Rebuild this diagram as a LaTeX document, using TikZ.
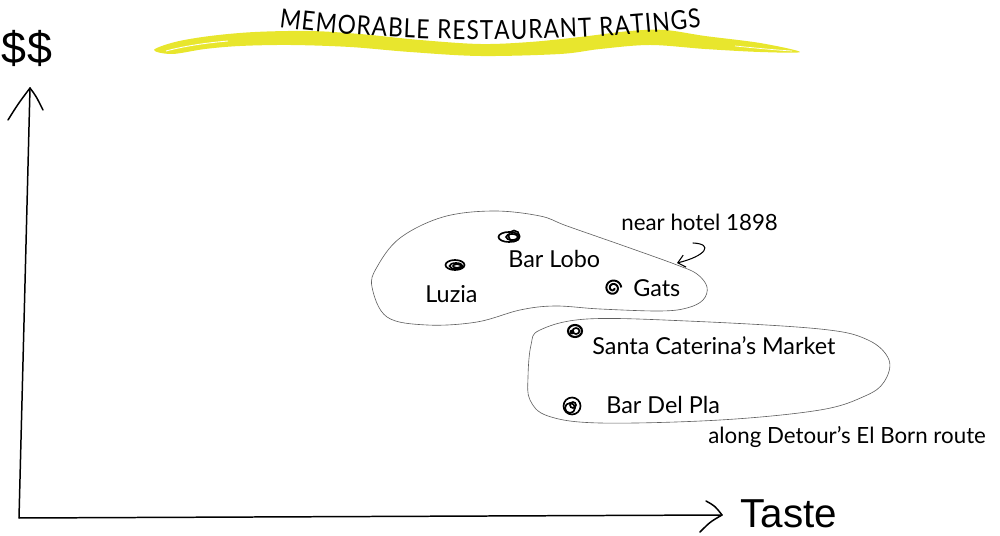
\documentclass[tikz,border=0pt]{standalone}
\usepackage{fontspec}
\setmainfont{Lato}
\newfontfamily\axisfont{Liberation Sans}
\newfontfamily\titlefont[FakeStretch=0.86]{Lato}
\usetikzlibrary{decorations.text,arrows.meta}
\definecolor{brush}{RGB}{232,230,45}
\definecolor{blobline}{RGB}{95,95,95}
\begin{document}
\begin{tikzpicture}[x=0.02cm,y=-0.02cm,
  lbl/.style={anchor=base west,inner sep=0pt,font=\fontsize{13.3}{15}\selectfont},
  note/.style={anchor=base west,inner sep=0pt,font=\fontsize{12.7}{15}\selectfont},
  axislbl/.style={anchor=base west,inner sep=0pt,font=\axisfont\fontsize{23}{26}\selectfont},
  axisline/.style={line width=0.85pt,line cap=round,line join=round},
  blob/.style={draw=blobline,line width=0.35pt},
  scrib/.style={line width=0.95pt}]
\useasboundingbox (0,0) rectangle (1000,536);

% yellow brush stroke
\fill[brush] plot[smooth cycle, tension=0.55] coordinates {(154,50) (175,42) (210,36) (255,32) (310,31) (360,34) (420,40) (480,44) (530,42) (580,37) (630,31) (665,30) (705,36) (760,43) (800,52) (760,52) (705,49) (650,45) (600,49) (560,54) (480,56) (410,52) (350,47) (290,45) (240,46) (205,49) (172,54)};
\draw[white,line width=0.5pt] (166,51) .. controls (185,46) and (205,43) .. (228,41);
\draw[white,line width=0.4pt] (735,46) .. controls (755,48) and (775,50) .. (792,51);

% title along curve
\path[decorate, decoration={text along path, text align={fit to path},
  text={|\titlefont\fontsize{15}{17}\selectfont|MEMORABLE RESTAURANT RATINGS}}]
  (279,27) .. controls (400,43) and (560,44) .. (701,27);

% axes
\coordinate (origin) at (19,518);
\coordinate (ytip) at (30,88);
\coordinate (xtip) at (722,515);
\draw[axisline] (origin) -- (ytip);
\draw[axisline] (origin) -- (xtip);
\draw[axisline] (8,120) .. controls (18,104) .. (ytip) .. controls (36,96) .. (43,110);
\draw[axisline] (706,501) .. controls (715,506) .. (xtip) .. controls (710,522) .. (700,532);
\node[axislbl,font=\axisfont\fontsize{25.5}{28}\selectfont] (price) at (1,64) {\$\kern0.5pt\$};
\node[axislbl] (taste) at (740,527) {Taste};

% blobs
\draw[blob] plot[smooth cycle, tension=0.6] coordinates {(372,287) (377,267) (400,238) (443,217) (493,211) (540,216) (567,226) (627,247) (677,265) (697,274) (707,287) (703,300) (687,308) (660,311) (600,309) (555,306) (520,310) (477,322) (427,325) (387,317)};
\draw[blob] plot[smooth cycle, tension=0.6] coordinates {(540,330) (587,319) (687,321) (820,329) (868,340) (889,360) (884,382) (865,396) (820,410) (720,420) (600,423) (548,416) (530,400) (528,377) (531,345)};

% scribbles
\draw[scrib] (455,265) ellipse [x radius=9.5,y radius=5];
\draw[scrib] (456,266) ellipse [x radius=6.5,y radius=3];
\draw[scrib] (457,266) ellipse [x radius=4,y radius=1.8];
\draw[scrib] (509,237) ellipse [x radius=10.5,y radius=5];
\draw[scrib] (514,236) circle [radius=5.5];
\draw[scrib] (512,237) ellipse [x radius=6,y radius=3];
\draw[line width=1.1pt] plot[domain=0:12.5, samples=70, smooth] ({613+(1.4+0.55*\x)*cos(\x r)}, {288+(1.4+0.55*\x)*sin(\x r)});
\draw[line width=1.2pt] (575,331) ellipse [x radius=7,y radius=6];
\draw[scrib] (576,331) ellipse [x radius=3.5,y radius=3];
\fill (572,332) circle [radius=2.4];
\draw[scrib] (572,406) circle [radius=8.5];
\draw[scrib] (570,408) circle [radius=5];
\draw[scrib] (573,405) circle [radius=3];

% labels
\node[lbl] (barlobo) at (508,268) {Bar Lobo};
\node[lbl] (luzia) at (425,303) {Luzia};
\node[lbl] (gats) at (633,297) {Gats};
\node[lbl] (santa) at (592,355) {Santa Caterina’s Market};
\node[lbl] (delpla) at (606,414) {Bar Del Pla};
\node[note] (hotel) at (621,231) {near hotel 1898};
\node[note] (route) at (708,443) {along Detour’s El Born route};

% small note arrow
\coordinate (hotelArrowStart) at (693,243);
\coordinate (hotelArrowEnd) at (677,263);
\draw[line width=0.6pt,line cap=round,-{Straight Barb[length=4pt,width=7pt]}] (hotelArrowStart) .. controls (714,244) and (706,256) .. (hotelArrowEnd);
\end{tikzpicture}
\end{document}
